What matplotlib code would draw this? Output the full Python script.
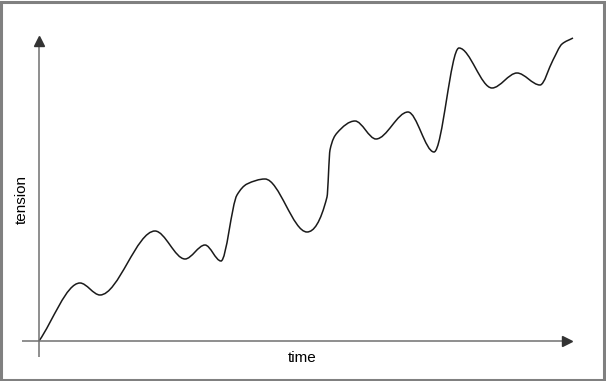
import matplotlib
matplotlib.use("Agg")
import matplotlib.pyplot as plt
from matplotlib.path import Path
from matplotlib.patches import PathPatch, Rectangle
import numpy as np

# key points of the curve (time, tension) in arbitrary units
time = [0, 41, 61, 116, 146, 166, 182, 198, 208, 226, 268, 288, 291, 298,
        316, 337, 369, 395, 420, 453, 478, 501, 514, 523, 534]
tension = [0, 58, 46, 110, 82, 96, 80, 146, 157, 162, 109, 144, 191, 208,
           220, 202, 229, 189, 293, 253, 268, 256, 281, 297, 303]

x_label = "time"
y_label = "tension"

plt.rcParams['font.family'] = ['Liberation Sans', 'DejaVu Sans']

fig = plt.figure(figsize=(6.06, 3.81), dpi=100)
ax = fig.add_axes([0, 0, 1, 1])
ax.set_xlim(-39, 567)
ax.set_ylim(-40, 341)
ax.axis('off')


def monotone_path(xs, ys):
    xs = np.asarray(xs, float)
    ys = np.asarray(ys, float)
    n = len(xs)
    d = np.diff(ys) / np.diff(xs)
    m = np.zeros(n)
    m[0] = d[0]
    m[-1] = d[-1]
    for i in range(1, n - 1):
        if d[i - 1] * d[i] <= 0:
            m[i] = 0.0
        else:
            h0 = xs[i] - xs[i - 1]
            h1 = xs[i + 1] - xs[i]
            w1 = 2 * h1 + h0
            w2 = h1 + 2 * h0
            m[i] = (w1 + w2) / (w1 / d[i - 1] + w2 / d[i])
    verts = [(xs[0], ys[0])]
    codes = [Path.MOVETO]
    for i in range(n - 1):
        h = xs[i + 1] - xs[i]
        verts += [(xs[i] + h / 3, ys[i] + m[i] * h / 3),
                  (xs[i + 1] - h / 3, ys[i + 1] - m[i + 1] * h / 3),
                  (xs[i + 1], ys[i + 1])]
        codes += [Path.CURVE4] * 3
    return Path(verts, codes)


# axes lines
axis_color = '#707070'
head_color = '#333333'
ax.plot([0, 0], [-16, 300], color=axis_color, lw=1.1, solid_capstyle='butt')
ax.plot([-17, 528], [0, 0], color=axis_color, lw=1.1, solid_capstyle='butt')
ax.plot([0], [300], marker='^', ms=6.5, color=head_color, mec=head_color)
ax.plot([528], [0], marker='>', ms=6.5, color=head_color, mec=head_color)

# curve
ax.add_patch(PathPatch(monotone_path(time, tension), fill=False,
                       edgecolor='#1a1a1a', lw=1.1))

ax.text(-17, 141, y_label, rotation=90, ha='center', va='center', fontsize=11)
ax.text(263, -17, x_label, ha='center', va='center', fontsize=11)

# figure frame
fig.patches.append(Rectangle((0.0015, 0.002), 0.995, 0.994, transform=fig.transFigure,
                             fill=False, edgecolor='#808080', lw=2.2))

fig.savefig('out.png', dpi=100, facecolor='white')
